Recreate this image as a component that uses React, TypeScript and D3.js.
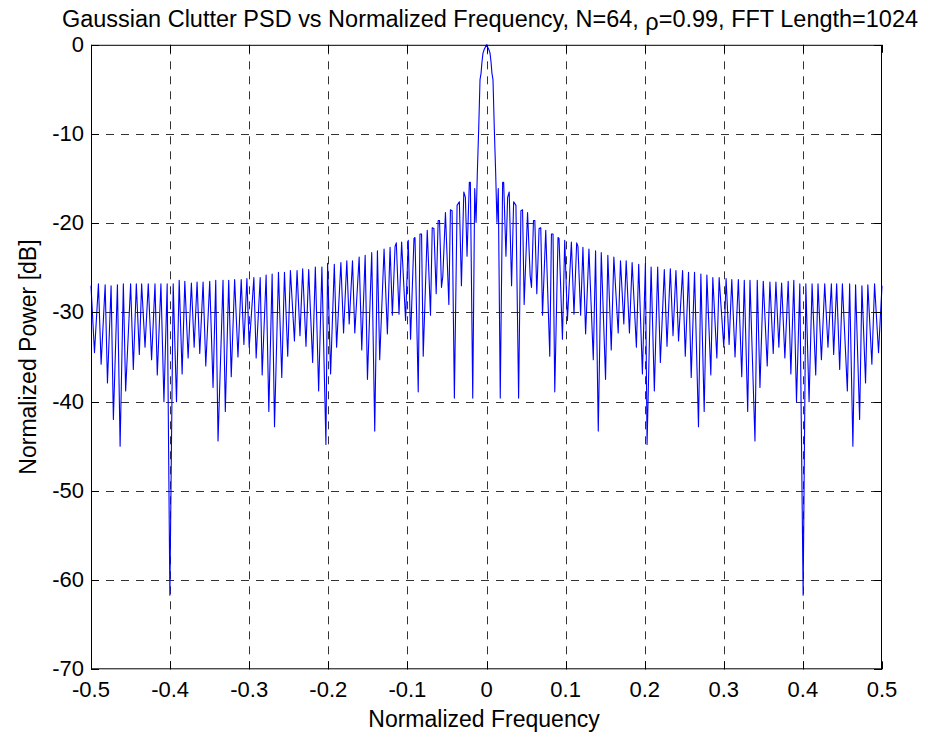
import React, { useRef, useEffect } from "react";
import * as d3 from "d3";

// right half of the spectrum (0 .. 0.5); the left half is its mirror
const halfFreq = [
  0, 0.0028, 0.0044, 0.0057, 0.0069, 0.0082, 0.0098, 0.0116, 0.0132, 0.0149,
  0.0174, 0.0204, 0.0217, 0.0246, 0.0267, 0.0287, 0.0317, 0.0343, 0.0372, 0.0406,
  0.0435, 0.0456, 0.0476, 0.0519, 0.0552, 0.0569, 0.0594, 0.0611, 0.0636, 0.0665,
  0.0686, 0.0708, 0.0749, 0.08, 0.0821, 0.0841, 0.0863, 0.0904, 0.0917, 0.096,
  0.0989, 0.1023, 0.1073, 0.1106, 0.114, 0.1156, 0.119, 0.1219, 0.1253, 0.1295,
  0.135, 0.1379, 0.1413, 0.1451, 0.1505, 0.1534, 0.1577, 0.161, 0.1665, 0.1694,
  0.1736, 0.1766, 0.1807, 0.1841, 0.1895, 0.1924, 0.1971, 0.2009, 0.203, 0.2081,
  0.2122, 0.2164, 0.2198, 0.2248, 0.2282, 0.2324, 0.2358, 0.2395, 0.2428, 0.2479,
  0.2513, 0.2554, 0.2588, 0.263, 0.268, 0.271, 0.2752, 0.2786, 0.2836, 0.2861,
  0.2912, 0.2941, 0.3, 0.3029, 0.3067, 0.3101, 0.3142, 0.3184, 0.3227, 0.3259,
  0.3302, 0.3331, 0.3394, 0.3423, 0.3457, 0.3499, 0.3549, 0.3583, 0.3625, 0.3659,
  0.3696, 0.3731, 0.3772, 0.3814, 0.3848, 0.3885, 0.3919, 0.3961, 0.4003, 0.4037,
  0.4078, 0.4116, 0.4162, 0.4191, 0.4234, 0.4276, 0.4317, 0.436, 0.4389, 0.4427,
  0.4465, 0.4499, 0.4562, 0.4591, 0.4632, 0.4666, 0.4717, 0.4746, 0.4792, 0.4821,
  0.4872, 0.4906, 0.4956, 0.5,
];

const halfPower = [
  0, -0.5, -0.9, -1.9, -3.2, -3.9, -9.2, -14.4, -19.9, -16.1,
  -39.6, -15.4, -15.4, -23.7, -17.1, -16.5, -27, -17.6, -18, -39.6,
  -18.6, -18.5, -29.1, -18.8, -25.9, -27.2, -19.7, -19.7, -27.9, -20.6,
  -20.5, -30.3, -20.8, -34.9, -21.2, -21.2, -38.9, -21.6, -21.7, -33,
  -21.9, -30.9, -22.1, -30.2, -22.2, -22.6, -30.3, -22.7, -32.4, -22.9,
  -35.3, -23.1, -43.3, -23.3, -37.5, -23.6, -34.2, -23.8, -32.3, -24.2,
  -31.3, -24.2, -32.3, -24.4, -33.9, -24.6, -36.9, -24.5, -44.8, -24.9,
  -38.8, -24.9, -35.6, -25.2, -33.8, -25.1, -32.6, -25.3, -33.2, -25.3,
  -34.9, -25.5, -37.3, -25.5, -42.8, -25.7, -41.1, -25.8, -37, -26.1,
  -35.1, -26.1, -33.9, -26.2, -33.6, -26.3, -35, -26.3, -37.2, -26.4,
  -41.1, -26.4, -44.4, -26.4, -38.4, -26.5, -36, -26.6, -34.6, -26.6,
  -33.9, -26.7, -35.1, -26.5, -36.9, -26.4, -40, -26.8, -61.7, -26.8,
  -40, -26.8, -37, -26.8, -35.3, -26.8, -33.9, -26.8, -34.7, -26.8,
  -36.4, -26.8, -38.8, -26.8, -45, -26.9, -42, -27, -37.9, -26.9,
  -35.8, -26.8, -34.5, -27,
];

const xTicks = [-0.5, -0.4, -0.3, -0.2, -0.1, 0, 0.1, 0.2, 0.3, 0.4, 0.5];
const yTicks = [0, -10, -20, -30, -40, -50, -60, -70];

const App = () => {
  const ref = useRef<SVGSVGElement>(null);

  useEffect(() => {
    const width = 925;
    const height = 736;
    const left = 91;
    const right = 882;
    const top = 44.8;
    const bottom = 669.3;
    const font = "'Liberation Sans', Arial, sans-serif";

    const svg = d3.select(ref.current);
    svg.selectAll("*").remove();
    svg.attr("width", width).attr("height", height);

    svg.append("rect").attr("width", width).attr("height", height).attr("fill", "#fff");

    const x = d3.scaleLinear().domain([-0.5, 0.5]).range([left, right]);
    const y = d3.scaleLinear().domain([-70, 0]).range([bottom, top]);

    // mirror the half spectrum
    const points: [number, number][] = [];
    for (let i = halfFreq.length - 1; i > 0; i--) points.push([-halfFreq[i], halfPower[i]]);
    for (let i = 0; i < halfFreq.length; i++) points.push([halfFreq[i], halfPower[i]]);

    // grid
    const grid = svg.append("g").attr("stroke", "#333").attr("stroke-width", 1).attr("stroke-dasharray", "8,7");
    grid
      .selectAll("line.v")
      .data(xTicks.slice(1, -1))
      .enter()
      .append("line")
      .attr("x1", (d) => Math.round(x(d)) + 0.5)
      .attr("x2", (d) => Math.round(x(d)) + 0.5)
      .attr("y1", bottom)
      .attr("y2", top);
    grid
      .selectAll("line.h")
      .data(yTicks.slice(1, -1))
      .enter()
      .append("line")
      .attr("x1", left)
      .attr("x2", right)
      .attr("y1", (d) => Math.round(y(d)) + 0.5)
      .attr("y2", (d) => Math.round(y(d)) + 0.5);

    // data line
    const line = d3
      .line<[number, number]>()
      .x((d) => x(d[0]))
      .y((d) => y(d[1]));
    svg
      .append("path")
      .datum(points)
      .attr("d", line)
      .attr("fill", "none")
      .attr("stroke", "#0000ff")
      .attr("stroke-width", 1.1)
      .attr("stroke-linejoin", "round");

    // box and inward ticks
    const axes = svg.append("g").attr("stroke", "#000").attr("stroke-width", 1);
    axes
      .append("rect")
      .attr("x", left + 0.5)
      .attr("y", top + 0.5)
      .attr("width", right - left - 1)
      .attr("height", bottom - top - 1)
      .attr("fill", "none");
    const tl = 8;
    xTicks.forEach((t) => {
      const px = Math.round(x(t)) + 0.5;
      axes.append("line").attr("x1", px).attr("x2", px).attr("y1", bottom).attr("y2", bottom - tl);
      axes.append("line").attr("x1", px).attr("x2", px).attr("y1", top).attr("y2", top + tl);
    });
    yTicks.forEach((t) => {
      const py = Math.round(y(t)) + 0.5;
      axes.append("line").attr("x1", left).attr("x2", left + tl).attr("y1", py).attr("y2", py);
      axes.append("line").attr("x1", right).attr("x2", right - tl).attr("y1", py).attr("y2", py);
    });

    // tick labels
    svg
      .append("g")
      .selectAll("text")
      .data(xTicks)
      .enter()
      .append("text")
      .attr("x", (d) => x(d))
      .attr("y", 697)
      .attr("text-anchor", "middle")
      .style("font-family", font)
      .style("font-size", "22px")
      .text((d) => String(d));
    svg
      .append("g")
      .selectAll("text")
      .data(yTicks)
      .enter()
      .append("text")
      .attr("x", 84)
      .attr("y", (d) => y(d) + 7)
      .attr("text-anchor", "end")
      .style("font-family", font)
      .style("font-size", "22px")
      .text((d) => String(d));

    // axis labels
    svg
      .append("text")
      .attr("x", 484)
      .attr("y", 727)
      .attr("text-anchor", "middle")
      .style("font-family", font)
      .style("font-size", "23px")
      .text("Normalized Frequency");
    svg
      .append("text")
      .attr("transform", `translate(36,${(top + bottom) / 2}) rotate(-90)`)
      .attr("text-anchor", "middle")
      .style("font-family", font)
      .style("font-size", "23px")
      .text("Normalized Power [dB]");

    // title
    const title = svg
      .append("text")
      .attr("x", 490)
      .attr("y", 27)
      .attr("text-anchor", "middle")
      .attr("textLength", 856)
      .attr("lengthAdjust", "spacingAndGlyphs")
      .style("font-family", font)
      .style("font-size", "23px");
    title.append("tspan").text("Gaussian Clutter PSD vs Normalized Frequency, N=64, ");
    title.append("tspan").attr("dy", 3).text("ρ");
    title.append("tspan").attr("dy", -3).text("=0.99, FFT Length=1024");
  }, []);

  return (
    <div style={{ position: "absolute", left: 0, top: 0 }}>
      <svg ref={ref} style={{ display: "block" }}></svg>
    </div>
  );
};

export default App;
